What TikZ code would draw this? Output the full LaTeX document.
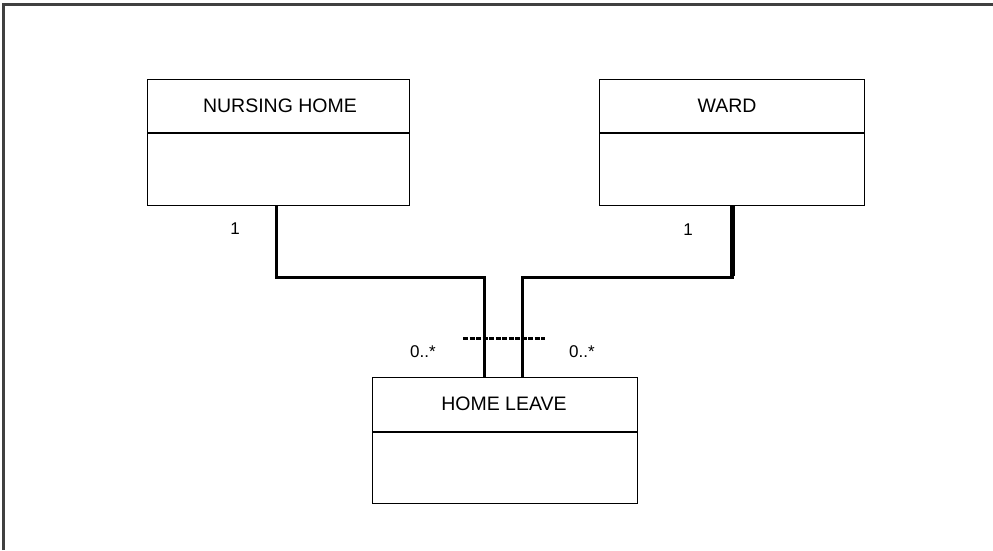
\documentclass[tikz,border=0pt]{standalone}
\usepackage{fontspec}
\setmainfont{Liberation Sans}
\begin{document}
\begin{tikzpicture}[x=1pt,y=-1pt,
  classbox/.style={draw=black, line width=1.3pt, fill=white, minimum width=262pt, minimum height=126pt, inner sep=0pt, anchor=north west},
  classname/.style={font=\fontsize{19.5}{21}\selectfont, inner sep=0pt},
  mult/.style={font=\fontsize{17}{19}\selectfont, inner sep=0pt},
  divider/.style={line width=1.3pt},
  assoc/.style={line width=3pt},
  frameline/.style={draw=black!75, line width=3pt}
]
\useasboundingbox (0,0) rectangle (993,550);
\draw[frameline] (3.5,550) -- (3.5,4) -- (993,4);

% classes
\node[classbox] (nh) at (147,79) {};
\node[classbox, minimum width=265pt] (wd) at (599,79) {};
\node[classbox, minimum width=265pt] (hl) at (372,377) {};

\node[classname] (nht) at (280,106) {NURSING HOME};
\node[classname] (wdt) at (727,106) {WARD};
\node[classname] (hlt) at (504,404) {HOME LEAVE};

\draw[divider] (nh.west |- 0,133) -- (nh.east |- 0,133);
\draw[divider] (wd.west |- 0,133) -- (wd.east |- 0,133);
\draw[divider] (hl.west |- 0,432) -- (hl.east |- 0,432);

% association points
\coordinate (a1) at (276,205);
\coordinate (a2) at (732,205);
\coordinate (b1) at (484,377);
\coordinate (b2) at (522,377);

\draw[assoc, line join=miter] (a1) |- (b1 |- 0,277) -- (b1);
\draw[assoc, line join=miter] (b2) |- (a2 |- 0,277) -- (a2);
\draw[line width=5pt] (a2) -- (732,276);

% association class dashed link
\coordinate (d1) at (463,338);
\coordinate (d2) at (545,338);
\draw[line width=3pt, dash pattern=on 5pt off 1.5pt] (d1) -- (d2);

% multiplicities
\node[mult] (m1) at (235,229) {1};
\node[mult] (m2) at (688,230) {1};
\node[mult] (m3) at (423,352) {0..*};
\node[mult] (m4) at (582,352) {0..*};
\end{tikzpicture}
\end{document}
